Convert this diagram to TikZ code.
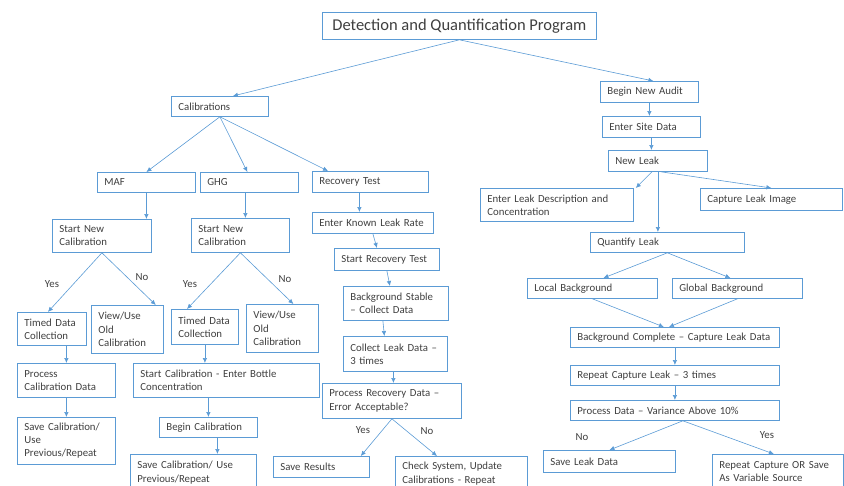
\documentclass[tikz,border=0pt]{standalone}
\usepackage{fontspec}
\setmainfont{Carlito}
\usetikzlibrary{arrows.meta}
\definecolor{linkblue}{HTML}{5B9BD5}
\definecolor{inkgray}{HTML}{3F3F3F}
\tikzset{flowbox/.style={draw=linkblue, line width=0.8pt, inner xsep=7pt, inner ysep=1pt,
  align=left, text=inkgray, font=\fontsize{10.8}{13.2}\selectfont, anchor=north west},
  flowline/.style={draw=linkblue, line width=0.6pt, -{Latex[length=5pt,width=4.5pt]}},
  answer/.style={text=inkgray, font=\fontsize{10.8}{13.2}\selectfont, inner sep=0pt}}
\newcommand{\boxat}[6]{%
  \pgfmathsetmacro{\boxw}{#4-#2-14}%
  \pgfmathsetmacro{\boxh}{#5-#3}%
  \node[flowbox, text width=\boxw pt, minimum height=\boxh pt] (#1) at (#2,#3) {#6};}

\begin{document}
\begin{tikzpicture}[x=1pt, y=-1pt]
  \useasboundingbox (0,0) rectangle (844,485);
  \node[flowbox, align=center, font=\fontsize{16.5}{19}\selectfont, minimum width=274pt,
    minimum height=27pt] (title) at (322,12) {Detection and Quantification Program};
  \boxat{cal}{171}{96}{268}{116}{Calibrations}
  \boxat{maf}{97}{172}{195}{192}{MAF}
  \boxat{ghg}{200}{172}{298}{192}{GHG}
  \boxat{rectest}{312}{171}{428}{192}{Recovery Test}
  \boxat{mafstart}{52}{219}{151}{252}{Start New\\Calibration}
  \boxat{ghgstart}{191}{218}{289}{252}{Start New\\Calibration}
  \boxat{maftimed}{17}{312}{86}{345}{Timed Data\\Collection}
  \boxat{mafview}{91}{305}{163}{353}{View/Use\\Old\\Calibration}
  \boxat{ghgtimed}{171}{309}{238}{344}{Timed Data\\Collection}
  \boxat{ghgview}{246}{304}{318}{352}{View/Use\\Old\\Calibration}
  \boxat{mafproc}{17}{363}{115}{397}{Process\\Calibration Data}
  \boxat{mafsave}{17}{417}{115}{464}{Save Calibration/\\Use\\Previous/Repeat}
  \boxat{ghgstartcal}{133}{363}{319}{397}{Start Calibration - Enter Bottle\\Concentration}
  \boxat{begincal}{159}{417}{257}{437}{Begin Calibration}
  \boxat{ghgsave}{130}{454}{256}{506}{Save Calibration/ Use\\Previous/Repeat\\\strut}
  \boxat{knownrate}{312}{212}{433}{233}{Enter Known Leak Rate}
  \boxat{startrec}{334}{248}{439}{270}{Start Recovery Test}
  \boxat{bgstable}{343}{286}{448}{320}{Background Stable\\– Collect Data}
  \boxat{collect}{343}{336}{447}{371}{Collect Leak Data –\\3 times}
  \boxat{procrec}{322}{383}{461}{418}{Process Recovery Data –\\Error Acceptable?}
  \boxat{saveres}{273}{456}{369}{477}{Save Results}
  \boxat{check}{395}{456}{527}{506}{Check System, Update\\Calibrations - Repeat\\\strut}
  \boxat{audit}{600}{81}{698}{102}{Begin New Audit}
  \boxat{site}{602}{116}{700}{137}{Enter Site Data}
  \boxat{newleak}{608}{150}{707}{171}{New Leak}
  \boxat{desc}{480}{188}{633}{221}{Enter Leak Description and\\Concentration}
  \boxat{image}{700}{188}{842}{210}{Capture Leak Image}
  \boxat{quant}{590}{232}{744}{252}{Quantify Leak}
  \boxat{local}{527}{278}{657}{298}{Local Background}
  \boxat{global}{672}{278}{802}{298}{Global Background}
  \boxat{bgdone}{570}{327}{779}{347}{Background Complete – Capture Leak Data}
  \boxat{repcap}{570}{365}{779}{385}{Repeat Capture Leak – 3 times}
  \boxat{procdata}{570}{400}{779}{420}{Process Data – Variance Above 10\%}
  \boxat{saveleak}{543}{450}{675}{472}{Save Leak Data}
  \boxat{varsrc}{712}{454}{843}{506}{Repeat Capture OR Save\\As Variable Source\\\strut}
  \node[answer] (mafyes) at (52,284) {Yes};
  \node[answer] (mafno) at (142,277) {No};
  \node[answer] (ghgyes) at (190,284) {Yes};
  \node[answer] (ghgno) at (285,279) {No};
  \node[answer] (recyes) at (363,430) {Yes};
  \node[answer] (recno) at (427,431) {No};
  \node[answer] (varno) at (582,437) {No};
  \node[answer] (varyes) at (767,435) {Yes};
  \draw[flowline] (title.south) -- ([xshift=13pt]cal.north);
  \draw[flowline] (title.south) -- ([xshift=4pt]audit.north);
  \draw[flowline] (cal.south) -- (maf.north);
  \draw[flowline] (cal.south) -- ([xshift=-2pt]ghg.north);
  \draw[flowline] (cal.south) -- ([xshift=16pt]rectest.north west);
  \draw[flowline] (maf.south) -- (maf.south |- mafstart.north);
  \draw[flowline] ([xshift=-4pt]ghg.south) -- ([xshift=-4pt]ghg.south |- ghgstart.north);
  \draw[flowline] (mafstart.south) -- ([xshift=-4pt]maftimed.north);
  \draw[flowline] (mafstart.south) -- ([xshift=-8pt]mafview.north east);
  \draw[flowline] (ghgstart.south) -- ([xshift=16pt]ghgtimed.north west);
  \draw[flowline] (ghgstart.south) -- ([xshift=11pt]ghgview.north);
  \draw[flowline] (mafproc.north |- maftimed.south) -- (mafproc.north);
  \draw[flowline] (mafproc.south) -- (mafsave.north);
  \draw[flowline] (ghgtimed.south) -- (ghgtimed.south |- ghgstartcal.north);
  \draw[flowline] (begincal.north |- ghgstartcal.south) -- (begincal.north);
  \draw[flowline] ([xshift=9pt]begincal.south) -- ([xshift=9pt]begincal.south |- ghgsave.north);
  \draw[flowline] ([xshift=-11pt]rectest.south) -- ([xshift=-11pt]rectest.south |- knownrate.north);
  \draw[flowline] (knownrate.south) -- ([xshift=-10pt]startrec.north);
  \draw[flowline] (startrec.south) -- ([xshift=-6pt]bgstable.north);
  \draw[flowline] ([xshift=-13pt]bgstable.south) -- ([xshift=-11pt]collect.north);
  \draw[flowline] ([xshift=-2pt]collect.south) -- ([xshift=-2pt]collect.south |- procrec.north);
  \draw[flowline] (procrec.south) -- ([xshift=-9pt]saveres.north east);
  \draw[flowline] (procrec.south) -- ([xshift=42pt]check.north west);
  \draw[flowline] (audit.south) -- (audit.south |- site.north);
  \draw[flowline] (site.south) -- (site.south |- newleak.north);
  \draw[flowline] ([xshift=-6pt]newleak.south) -- ([xshift=2pt]desc.north east);
  \draw[flowline] (newleak.south) -- (newleak.south |- quant.north);
  \draw[flowline] ([xshift=3pt]newleak.south) -- (image.north);
  \draw[flowline] (quant.south) -- ([xshift=11pt]local.north);
  \draw[flowline] (quant.south) -- ([xshift=-7pt]global.north);
  \draw[flowline] (local.south) -- ([xshift=-11pt]bgdone.north);
  \draw[flowline] (global.south) -- ([xshift=-6pt]bgdone.north);
  \draw[flowline] (bgdone.south) -- (repcap.north);
  \draw[flowline] (repcap.south) -- (procdata.north);
  \draw[flowline] ([xshift=8pt]procdata.south) -- (saveleak.north);
  \draw[flowline] ([xshift=8pt]procdata.south) -- ([xshift=-4pt]varsrc.north);
\end{tikzpicture}
\end{document}
